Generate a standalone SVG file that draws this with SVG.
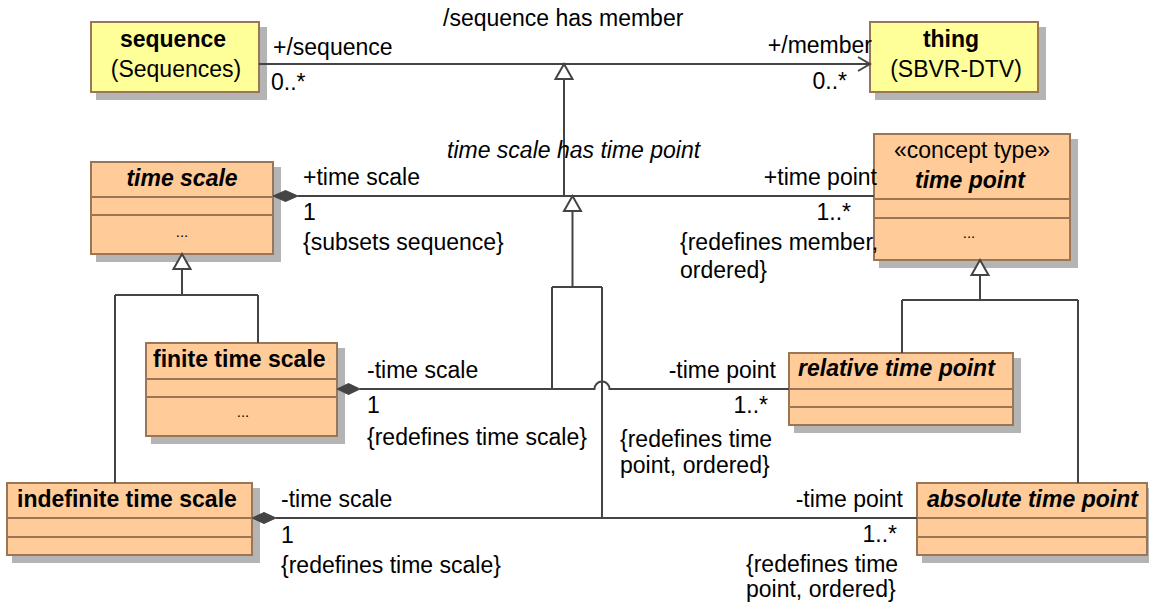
<svg xmlns="http://www.w3.org/2000/svg" width="1149" height="605" viewBox="0 0 1149 605">
  <style>
    text { font-family: "Liberation Sans", Arial, sans-serif; font-size: 23px; fill: #000; }
    .b { font-weight: bold; }
    .bi { font-weight: bold; font-style: italic; }
    .i { font-style: italic; }
    .m { text-anchor: middle; }
    .e { text-anchor: end; }
    .dots { font-size: 15px; text-anchor: middle; }
    .shadow { fill: #b4b4b4; }
    .cls { fill: #ffcc99; stroke: #9a7656; stroke-width: 2; }
    .dt { fill: #ffff99; stroke: #9a7656; stroke-width: 2; }
    .sep { stroke: #9a7656; stroke-width: 2; }
    .ln { fill: none; stroke: #444; stroke-width: 2; }
    .gen { fill: #fff; stroke: #444; stroke-width: 2; }
    .dia { fill: #444; stroke: #444; stroke-width: 1; }
  </style>

  <!-- sequence -->
  <g id="sequence">
    <rect class="shadow" x="96" y="27" width="171" height="73"/>
    <rect class="dt" x="91" y="22" width="168" height="70"/>
    <text class="b m" x="173" y="47">sequence</text>
    <text class="m" x="176" y="77">(Sequences)</text>
  </g>

  <!-- thing -->
  <g id="thing">
    <rect class="shadow" x="875" y="27" width="171" height="73"/>
    <rect class="dt" x="870" y="22" width="168" height="70"/>
    <text class="b m" x="951" y="47">thing</text>
    <text class="m" x="956" y="77">(SBVR-DTV)</text>
  </g>

  <!-- time scale -->
  <g id="time-scale">
    <rect class="shadow" x="96" y="167" width="185" height="95"/>
    <rect class="cls" x="91" y="162" width="182" height="92"/>
    <path class="sep" d="M91,197 H273 M91,215 H273"/>
    <text class="bi m" x="182" y="186">time scale</text>
    <text class="dots" x="182" y="237">...</text>
  </g>

  <!-- time point -->
  <g id="time-point">
    <rect class="shadow" x="879" y="139" width="199" height="129"/>
    <rect class="cls" x="874" y="134" width="196" height="126"/>
    <path class="sep" d="M874,199 H1070 M874,218 H1070"/>
    <text class="m" x="972" y="158">«concept type»</text>
    <text class="bi m" x="970" y="188">time point</text>
    <text class="dots" x="969" y="238">...</text>
  </g>

  <!-- finite time scale -->
  <g id="finite-time-scale">
    <rect class="shadow" x="151" y="348" width="194" height="96"/>
    <rect class="cls" x="146" y="343" width="191" height="93"/>
    <path class="sep" d="M146,379 H337 M146,397 H337"/>
    <text class="b" x="153" y="367">finite time scale</text>
    <text class="dots" x="243" y="417">...</text>
  </g>

  <!-- relative time point -->
  <g id="relative-time-point">
    <rect class="shadow" x="794" y="358" width="227" height="75"/>
    <rect class="cls" x="789" y="353" width="224" height="72"/>
    <path class="sep" d="M789,389 H1013 M789,407 H1013"/>
    <text class="bi" x="798" y="376">relative time point</text>
  </g>

  <!-- indefinite time scale -->
  <g id="indefinite-time-scale">
    <rect class="shadow" x="12" y="488" width="248" height="75"/>
    <rect class="cls" x="7" y="483" width="245" height="72"/>
    <path class="sep" d="M7,518 H252 M7,537 H252"/>
    <text class="b" x="17" y="507">indefinite time scale</text>
  </g>

  <!-- absolute time point -->
  <g id="absolute-time-point">
    <rect class="shadow" x="922" y="488" width="233" height="75"/>
    <rect class="cls" x="917" y="483" width="230" height="72"/>
    <path class="sep" d="M917,518 H1147 M917,537 H1147"/>
    <text class="bi" x="927" y="507">absolute time point</text>
  </g>

  <!-- connector lines and their ends, drawn over the box shadows -->
  <g id="connectors">
    <!-- /sequence has member -->
    <path class="ln" d="M259,64 H869"/>
    <polyline class="ln" points="858,57 870,64 858,71"/>

    <!-- time scale has time point specialises /sequence has member -->
    <path class="ln" d="M564,79 V196"/>
    <polygon class="gen" points="564,64 555.5,79 572.5,79"/>

    <!-- time scale has time point -->
    <path class="ln" d="M298,196 H874"/>
    <polygon class="dia" points="273,196 285.5,190.5 298,196 285.5,201.5"/>

    <!-- lower associations specialise time scale has time point -->
    <path class="ln" d="M572.5,211 V287 M552,287 H602 M552,287 V389 M602,287 V518"/>
    <polygon class="gen" points="572.5,196 564,211 581,211"/>

    <!-- finite time scale to relative time point, hopping over the vertical -->
    <path class="ln" d="M360,389 H594.5 A7.5,7.5 0 0 1 609.5,389 H789"/>
    <polygon class="dia" points="337,389 348.5,383.5 360,389 348.5,394.5"/>

    <!-- indefinite time scale to absolute time point -->
    <path class="ln" d="M276,518 H917"/>
    <polygon class="dia" points="252,518 264,512.5 276,518 264,523.5"/>

    <!-- time scale generalisation -->
    <path class="ln" d="M182,269 V295 M115,295 H258 M115,295 V483 M258,295 V343"/>
    <polygon class="gen" points="182,254 173.5,269 190.5,269"/>

    <!-- time point generalisation -->
    <path class="ln" d="M980,275 V300 M902,300 H1078 M902,300 V353 M1078,300 V483"/>
    <polygon class="gen" points="980,260 971.5,275 988.5,275"/>
  </g>

  <!-- association names, role names, multiplicities and constraints -->
  <g id="connector-labels">
    <text x="443" y="26">/sequence has member</text>
    <text x="273" y="55">+/sequence</text>
    <text x="271" y="90">0..*</text>
    <text class="e" x="872" y="53">+/member</text>
    <text class="e" x="847" y="89">0..*</text>

    <text class="i" x="447" y="158">time scale has time point</text>
    <text x="303" y="185">+time scale</text>
    <text x="303" y="220">1</text>
    <text x="303" y="250">{subsets sequence}</text>
    <text class="e" x="877" y="185">+time point</text>
    <text class="e" x="851" y="220">1..*</text>
    <text x="680" y="250">{redefines member,</text>
    <text x="680" y="278">ordered}</text>

    <text x="367" y="378">-time scale</text>
    <text x="367" y="413">1</text>
    <text x="367" y="445">{redefines time scale}</text>
    <text class="e" x="776" y="378">-time point</text>
    <text class="e" x="768" y="413">1..*</text>
    <text x="620" y="447">{redefines time</text>
    <text x="620" y="473">point, ordered}</text>

    <text x="281" y="507">-time scale</text>
    <text x="281" y="543">1</text>
    <text x="281" y="573">{redefines time scale}</text>
    <text class="e" x="903" y="507">-time point</text>
    <text class="e" x="897" y="542">1..*</text>
    <text x="746" y="572">{redefines time</text>
    <text x="746" y="597">point, ordered}</text>
  </g>
</svg>
